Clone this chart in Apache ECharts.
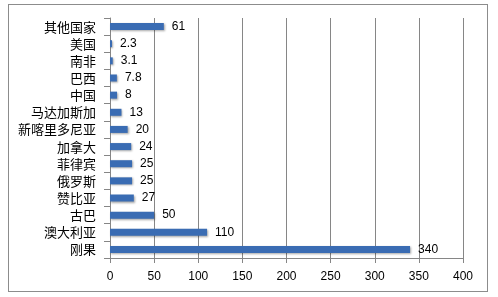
<!DOCTYPE html>
<html><head><meta charset="utf-8">
<script src="https://cdn.jsdelivr.net/npm/echarts@6/dist/echarts.min.js"></script>
<style>html,body{margin:0;padding:0;background:#fff}#c{width:498px;height:297px;position:relative}
#frame{position:absolute;left:8px;top:4px;width:480px;height:288px;border:1px solid #8c8c8c;box-sizing:border-box;pointer-events:none}</style>
</head><body><div id="c"></div><div id="frame"></div>
<script>
const categories = ['刚果','澳大利亚','古巴','赞比亚','俄罗斯','菲律宾','加拿大','新喀里多尼亚','马达加斯加','中国','巴西','南非','美国','其他国家'];
const values = [340,110,50,27,25,25,24,20,13,8,7.8,3.1,2.3,61];
const xTicks = {min:0,max:400,interval:50};
const chart = echarts.init(document.getElementById('c'));
chart.setOption({
  animation:false,
  grid:{left:110,right:35,top:18,bottom:39},
  xAxis:{type:'value',min:xTicks.min,max:xTicks.max,interval:xTicks.interval,
    axisLine:{show:true,lineStyle:{color:'#868686'}},
    axisTick:{show:true,length:5,lineStyle:{color:'#868686'}},
    axisLabel:{color:'#000',fontSize:12,fontFamily:'Liberation Sans, DejaVu Sans, sans-serif',margin:13},
    splitLine:{show:true,lineStyle:{color:'#868686',width:1}}},
  yAxis:{type:'category',data:categories,
    axisLine:{show:true,lineStyle:{color:'#868686'}},
    axisTick:{show:true,length:6,lineStyle:{color:'#868686'}},
    axisLabel:{color:'#000',fontSize:13,fontFamily:'Noto Sans CJK SC, sans-serif',margin:14}},
  series:[{type:'bar',data:values,barWidth:7,
    itemStyle:{color:'#3A6CB3',shadowColor:'rgba(0,0,0,0.35)',shadowBlur:2,shadowOffsetX:1,shadowOffsetY:1},
    label:{show:true,position:'right',distance:8,color:'#000',fontSize:12,fontFamily:'Liberation Sans, DejaVu Sans, sans-serif'}}]
});
</script></body></html>
